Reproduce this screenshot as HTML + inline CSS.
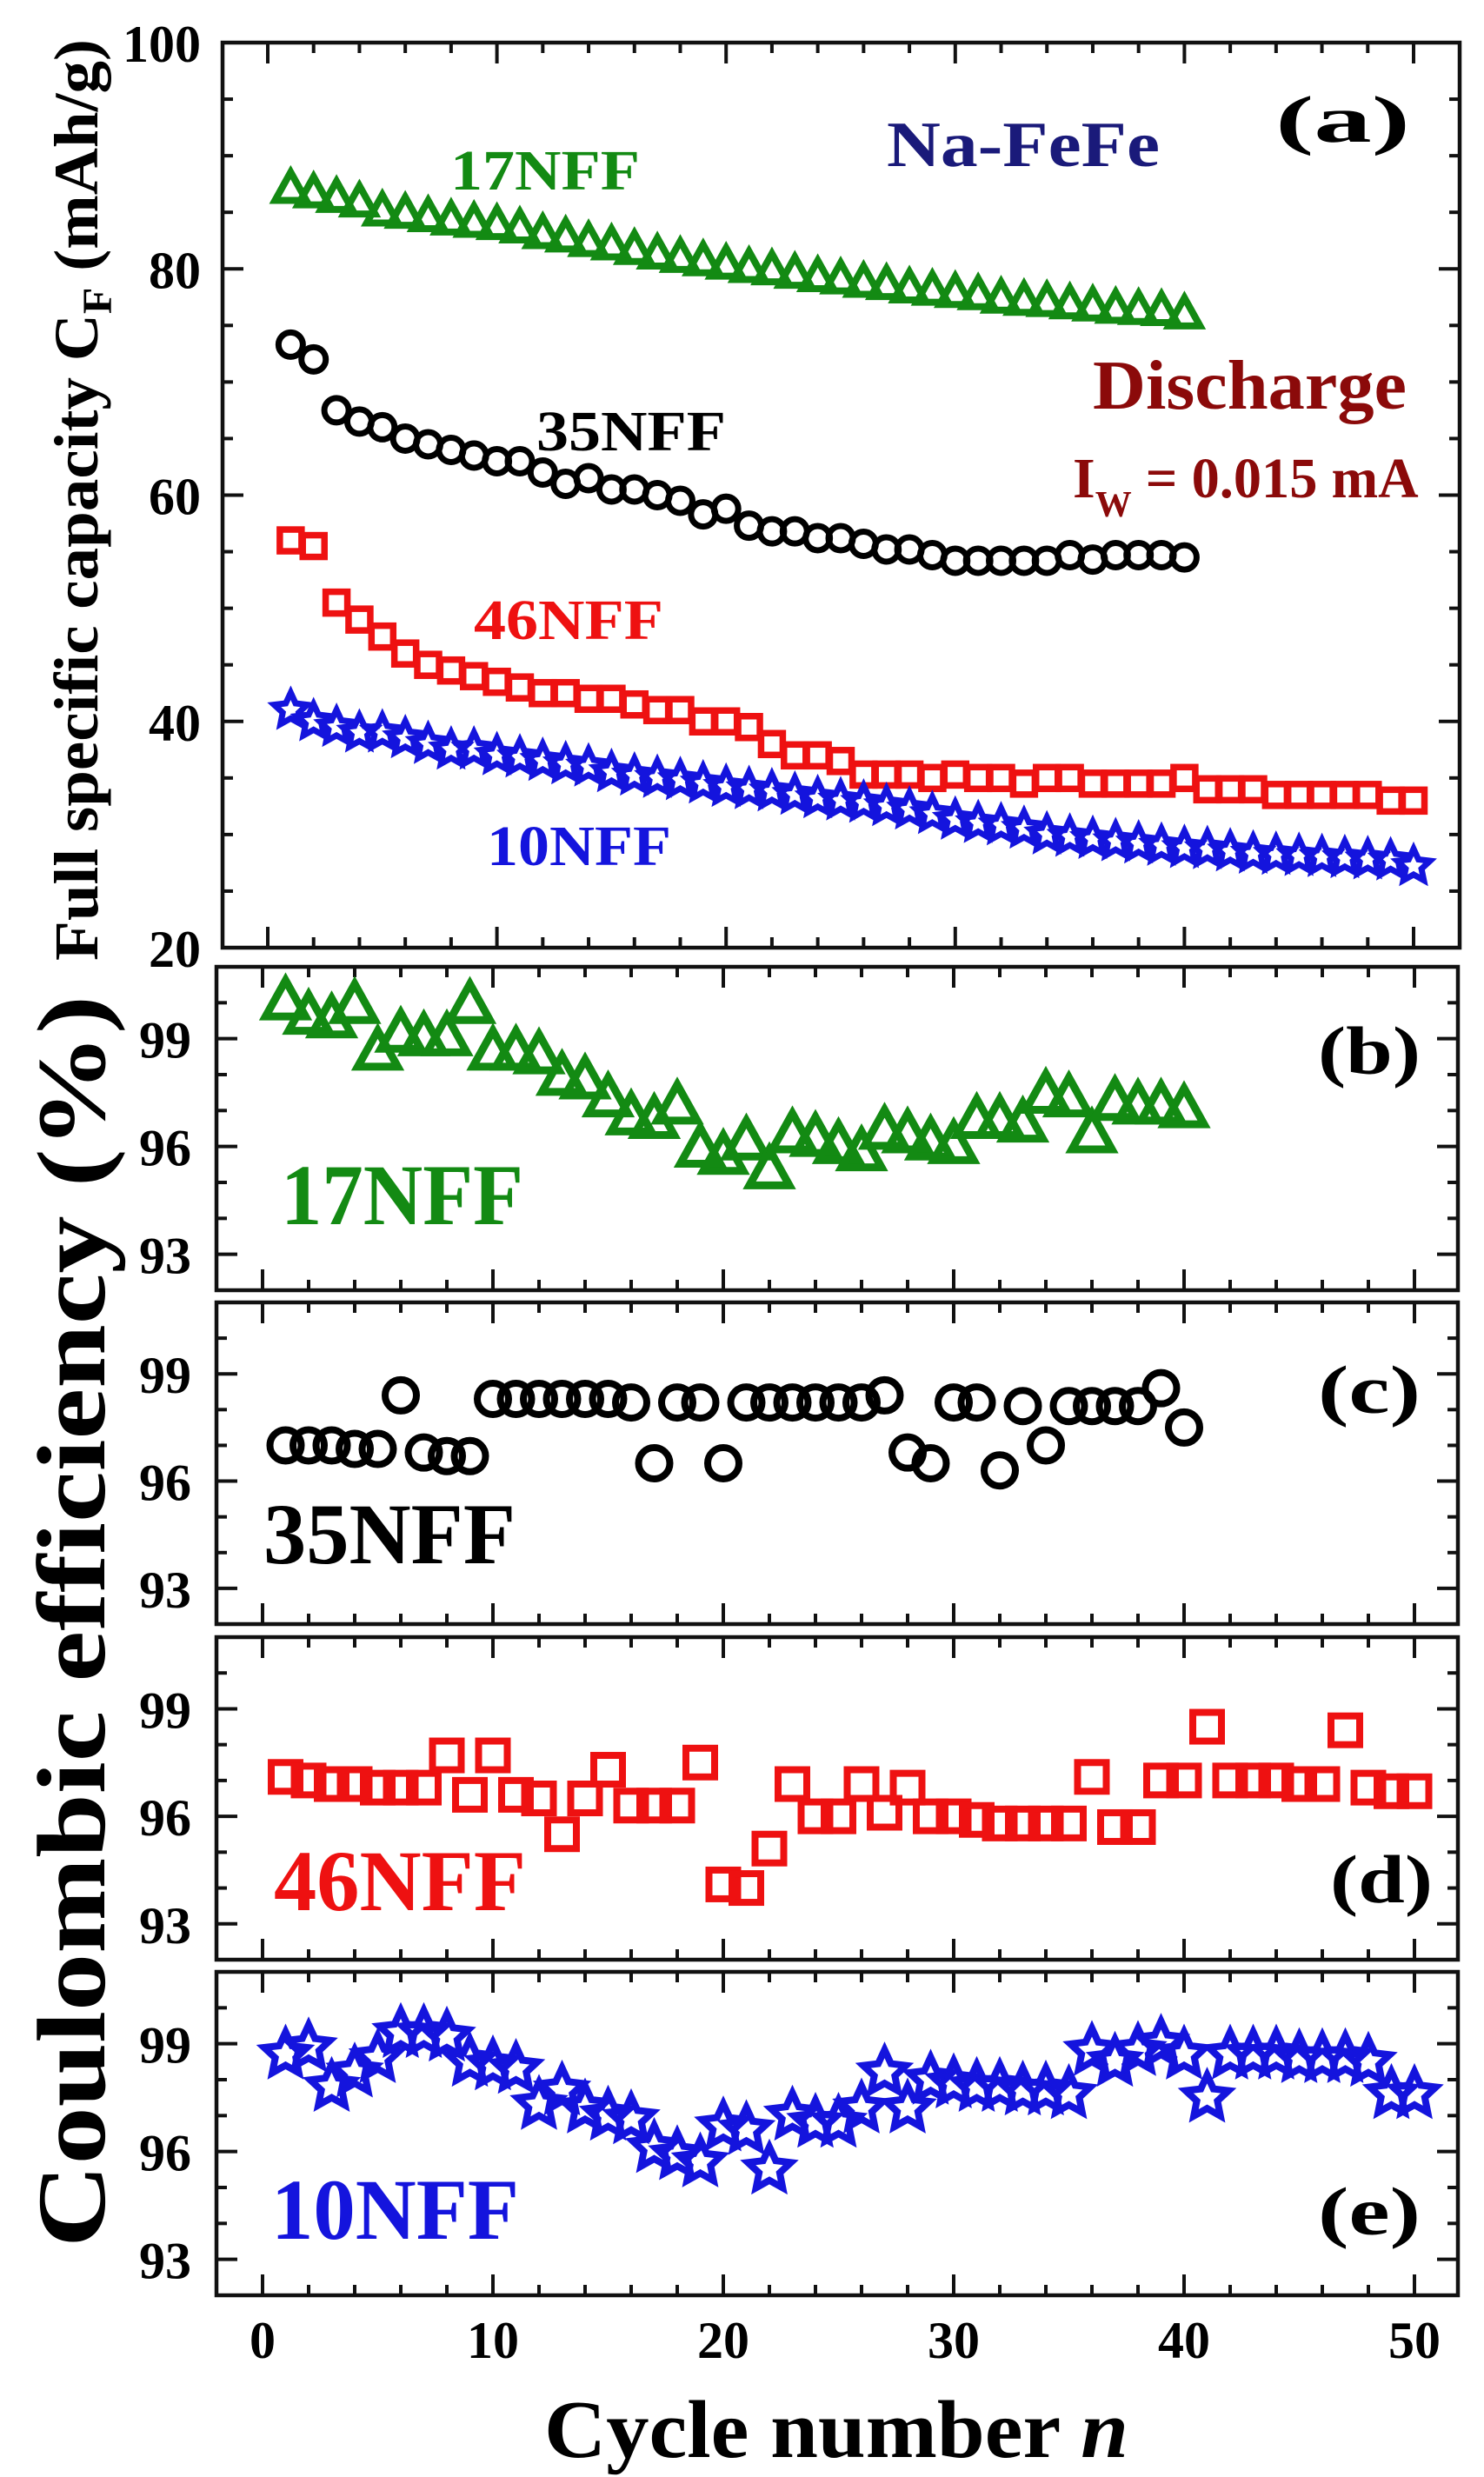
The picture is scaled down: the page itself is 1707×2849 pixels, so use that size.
<!DOCTYPE html>
<html><head><meta charset="utf-8"><style>
html,body{margin:0;padding:0;background:#fff}
svg{display:block}
text{font-family:"Liberation Serif","Times New Roman",serif;font-weight:bold}
</style></head><body>
<svg id="fig" xmlns="http://www.w3.org/2000/svg" width="1707" height="2849" viewBox="0 0 1707 2849" font-family="Liberation Serif, serif" font-weight="bold">
<g id="axes"></g>
<g id="marks"></g>
<g id="labels">
<text transform="translate(112,575) rotate(-90)" text-anchor="middle" font-size="72" textLength="1060" lengthAdjust="spacingAndGlyphs">Full specific capacity C<tspan font-size="48" dy="16">F</tspan><tspan dy="-16"> (mAh/g)</tspan></text>
<text transform="translate(120,1865) rotate(-90)" text-anchor="middle" font-size="112" textLength="1440" lengthAdjust="spacingAndGlyphs">Coulombic efficiency (%)</text>
<text x="962" y="2826" text-anchor="middle" font-size="94" textLength="672" lengthAdjust="spacingAndGlyphs">Cycle number <tspan font-style="italic">n</tspan></text>
<text x="518" y="218" font-size="66" fill="#138a13" textLength="218" lengthAdjust="spacingAndGlyphs">17NFF</text>
<text x="1020" y="191" font-size="74" fill="#1a1a7a" textLength="314" lengthAdjust="spacingAndGlyphs">Na-FeFe</text>
<text x="1467" y="163" font-size="76" textLength="155" lengthAdjust="spacingAndGlyphs">(a)</text>
<text x="1257" y="470" font-size="80" fill="#8b0a0a" textLength="361" lengthAdjust="spacingAndGlyphs">Discharge</text>
<text x="1234" y="572" font-size="66" fill="#8b0a0a">I<tspan font-size="42" dy="22">W</tspan><tspan dy="-22" textLength="330" lengthAdjust="spacingAndGlyphs"> = 0.015 mA</tspan></text>
<text x="617" y="518" font-size="66" fill="#000" textLength="218" lengthAdjust="spacingAndGlyphs">35NFF</text>
<text x="545" y="735" font-size="66" fill="#ee1111" textLength="218" lengthAdjust="spacingAndGlyphs">46NFF</text>
<text x="560" y="995" font-size="66" fill="#1414dd" textLength="212" lengthAdjust="spacingAndGlyphs">10NFF</text>
<text x="1516" y="1235" font-size="78" textLength="118" lengthAdjust="spacingAndGlyphs">(b)</text>
<text x="1516" y="1625" font-size="78" textLength="118" lengthAdjust="spacingAndGlyphs">(c)</text>
<text x="1530" y="2188" font-size="78" textLength="118" lengthAdjust="spacingAndGlyphs">(d)</text>
<text x="1516" y="2570" font-size="78" textLength="118" lengthAdjust="spacingAndGlyphs">(e)</text>
<text x="323" y="1408" font-size="100" fill="#138a13" textLength="279" lengthAdjust="spacingAndGlyphs">17NFF</text>
<text x="303" y="1798" font-size="100" fill="#000" textLength="290" lengthAdjust="spacingAndGlyphs">35NFF</text>
<text x="315" y="2197" font-size="100" fill="#ee1111" textLength="290" lengthAdjust="spacingAndGlyphs">46NFF</text>
<text x="312" y="2575" font-size="100" fill="#1414dd" textLength="285" lengthAdjust="spacingAndGlyphs">10NFF</text>
</g>
</svg>
<script>
const cap17 = [87,86.6,86.2,85.8,85.0,84.8,84.5,84.2,84,83.8,83.5,83,82.7,82.3,82,81.6,81.2,80.9,80.6,80.3,80,79.8,79.5,79.2,79,78.7,78.5,78.2,78,77.8,77.6,77.3,77.1,77,76.8,76.6,76.4,76.3,76.2,75.9];
const cap35 = [73.3,72,67.5,66.5,66,65,64.5,64,63.5,63,63,62,61,61.5,60.5,60.5,60,59.5,58.3,58.8,57.3,56.8,56.8,56.2,56.2,55.7,55.2,55.2,54.7,54.2,54.2,54.2,54.2,54.2,54.7,54.3,54.7,54.7,54.7,54.5];
const cap46 = [56,55.5,50.5,49,47.5,46,45,44.5,44,43.5,43,42.5,42.5,42,42,41.5,41,41,40,40,39.5,38,37,37,36.5,35.3,35.3,35.3,35,35.3,35,35,34.5,35,35,34.5,34.5,34.5,34.5,35,34,34,34,33.5,33.5,33.5,33.5,33.5,33,33];
const cap10 = [41,40,39.5,39,39,38.5,38,37.5,37.5,37,36.8,36.5,36.2,36,35.5,35.2,35,34.8,34.5,34.2,34,33.8,33.5,33.2,33,32.8,32.5,32.2,31.8,31.3,31,30.8,30.5,30,29.8,29.6,29.4,29.2,29,28.8,28.7,28.5,28.3,28.2,28.1,28,27.9,27.8,27.7,27.2];
const ce17 = [100.0,99.6,99.5,99.9,98.6,99.1,99.0,99.0,99.9,98.6,98.6,98.5,97.9,97.8,97.3,96.8,96.7,97.1,95.9,95.7,96.1,95.3,96.3,96.2,96.0,95.8,96.4,96.3,96.1,96.0,96.7,96.7,96.6,97.4,97.3,96.3,97.2,97.1,97.1,97.0];
const ce35 = [97,97,97,96.9,96.9,98.4,96.8,96.7,96.7,98.3,98.3,98.3,98.3,98.3,98.3,98.2,96.5,98.2,98.2,96.5,98.2,98.2,98.2,98.2,98.2,98.2,98.4,96.8,96.5,98.2,98.2,96.3,98.1,97,98.1,98.1,98.1,98.1,98.6,97.5];
const ce46 = [97.1,97,96.9,96.9,96.8,96.8,96.8,97.7,96.6,97.7,96.6,96.5,95.5,96.5,97.3,96.3,96.3,96.3,97.5,94.1,94,95.1,96.9,96,96,96.9,96.1,96.8,96,96,95.9,95.8,95.8,95.8,95.8,97.1,95.7,95.7,97,97,98.5,97,97,97,96.9,96.9,98.4,96.8,96.7,96.7];
const ce10 = [98.7,98.9,97.8,98.2,98.6,99.3,99.3,99.2,98.5,98.4,98.3,97.3,97.7,97.2,97,96.9,96.1,95.9,95.7,96.7,96.6,95.5,97,96.8,96.8,97.2,98.2,97.2,98,97.9,97.8,97.8,97.7,97.7,97.6,98.8,98.5,98.8,99.0,98.7,97.5,98.7,98.7,98.7,98.6,98.6,98.6,98.5,97.6,97.6];
const xTicks = [0,10,20,30,40,50];
const capTicks = [20,40,60,80,100];
const ceTicks = [93,96,99];

const NS='http://www.w3.org/2000/svg';
const axesG=document.getElementById('axes'), marksG=document.getElementById('marks');
function mk(tag,attrs,parent){const e=document.createElementNS(NS,tag);for(const k in attrs)e.setAttribute(k,attrs[k]);parent.appendChild(e);return e;}

const panels=[
 {id:'a',l:256,r:1679,t:49,b:1090,x0:308,x1:1626,ymin:20,ymax:100,yminor:5,ymajor:20,labels:capTicks,showX:false},
 {id:'b',l:249,r:1677,t:1112,b:1484,x0:302,x1:1627,ymin:92,ymax:101,yminor:1,ymajor:3,labels:ceTicks,showX:false},
 {id:'c',l:249,r:1677,t:1498,b:1868,x0:302,x1:1627,ymin:92,ymax:101,yminor:1,ymajor:3,labels:ceTicks,showX:false},
 {id:'d',l:249,r:1677,t:1883,b:2254,x0:302,x1:1627,ymin:92,ymax:101,yminor:1,ymajor:3,labels:ceTicks,showX:false},
 {id:'e',l:249,r:1677,t:2268,b:2640,x0:302,x1:1627,ymin:92,ymax:101,yminor:1,ymajor:3,labels:ceTicks,showX:true}
];
panels.forEach(p=>{
 p.sx=v=>p.x0+(p.x1-p.x0)*v/50;
 p.sy=v=>p.b-(p.b-p.t)*(v-p.ymin)/(p.ymax-p.ymin);
 const g=mk('g',{},axesG);
 
 
 const fr=mk('rect',{x:p.l,y:p.t,width:p.r-p.l,height:p.b-p.t,fill:'none',stroke:'#111','stroke-width':4.5},g);
 
 
 for(let v=0;v<=50;v+=2){
  const major=v%10===0, len=major?24:12, x=p.sx(v);
  mk('line',{x1:x,x2:x,y1:p.b,y2:p.b-len,stroke:'#111','stroke-width':4},g);
  mk('line',{x1:x,x2:x,y1:p.t,y2:p.t+len,stroke:'#111','stroke-width':4},g);
 }
 for(let v=p.ymin;v<=p.ymax+1e-9;v+=p.yminor){
  const major=((v-(p.id==='a'?20:93))%p.ymajor+p.ymajor)%p.ymajor===0, len=major?24:12, y=p.sy(v);
  mk('line',{x1:p.l,x2:p.l+len,y1:y,y2:y,stroke:'#111','stroke-width':4},g);
  mk('line',{x1:p.r,x2:p.r-len,y1:y,y2:y,stroke:'#111','stroke-width':4},g);
 }
 p.labels.forEach(v=>{
  const t=mk('text',{x:p.id==='a'?231:220,y:p.sy(v)+22,'text-anchor':'end','font-size':60},g);
  
  
  t.textContent=v;
 });
 if(p.showX){
  xTicks.forEach(v=>{
   const t=mk('text',{x:p.sx(v),y:2712,'text-anchor':'middle','font-size':60},g);
   
   
   t.textContent=v;
  });
 }
});

function marker(type,x,y,s,color,sw,parent){
 let e;
 if(type==='tri'){const h=s*0.9;e=mk('polygon',{points:`${x},${y-h*0.62} ${x-s/2},${y+h*0.38} ${x+s/2},${y+h*0.38}`},parent);}
 else if(type==='circ'){e=mk('circle',{cx:x,cy:y,r:s/2},parent);}
 else if(type==='sq'){e=mk('rect',{x:x-s/2,y:y-s/2,width:s,height:s},parent);}
 else {const pts=[];for(let i=0;i<10;i++){const a=-Math.PI/2+i*Math.PI/5,r=i%2?s*0.24:s/2;pts.push((x+r*Math.cos(a)).toFixed(1)+','+(y+r*Math.sin(a)).toFixed(1));}e=mk('polygon',{points:pts.join(' ')},parent);}
 e.setAttribute('fill','none');e.setAttribute('stroke',color);e.setAttribute('stroke-width',sw);e.setAttribute('stroke-linejoin','miter');
 return e;
}
function series(p,data,type,size,color,sw,name){
 const g=mk('g',{},marksG);
 
 
 data.forEach((v,i)=>{
  const m=marker(type,p.sx(i+1),p.sy(v),size,color,sw,g);
  
  
 });
}
const G='#138a13',K='#000',R='#ee1111',B='#1414dd';
series(panels[0],cap17,'tri',36,G,8,'series-17nff-capacity');
series(panels[0],cap35,'circ',28,K,7,'series-35nff-capacity');
series(panels[0],cap46,'sq',25,R,7.5,'series-46nff-capacity');
series(panels[0],cap10,'star',40,B,7,'series-10nff-capacity');
series(panels[1],ce17,'tri',46,G,9,'series-17nff-efficiency');
series(panels[2],ce35,'circ',36,K,8,'series-35nff-efficiency');
series(panels[3],ce46,'sq',33,R,8,'series-46nff-efficiency');
series(panels[4],ce10,'star',52,B,8,'series-10nff-efficiency');
</script>
</body></html>
